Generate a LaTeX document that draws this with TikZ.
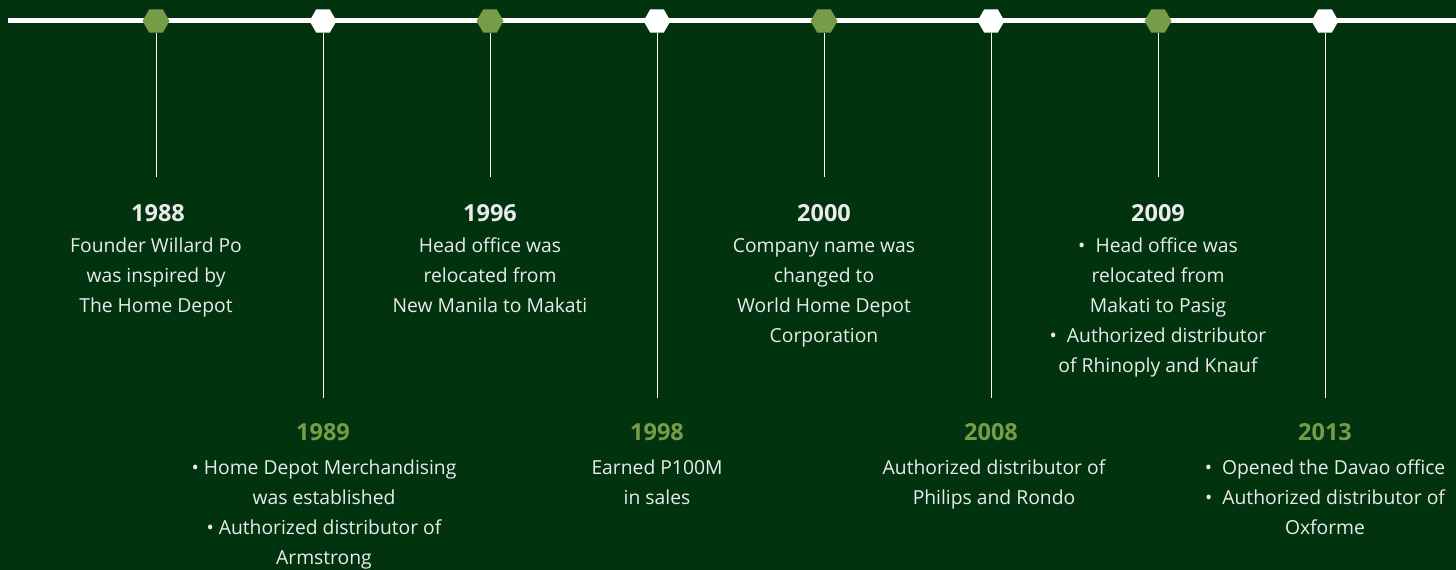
\documentclass[tikz,border=0pt]{standalone}
\usepackage{fontspec}
\setmainfont{Open Sans}
\usetikzlibrary{shapes.geometric}
\definecolor{bg}{HTML}{02330F}
\definecolor{lg}{HTML}{769C48}
\definecolor{tx}{HTML}{EBEBEB}
\tikzset{
  hexg/.style={regular polygon, regular polygon sides=6, minimum size=27pt, inner sep=0pt, fill=lg, draw=none},
  hexw/.style={hexg, fill=white},
  stem/.style={draw=white, line width=1pt},
  axis/.style={draw=white, line width=5pt},
  yeartop/.style={font=\fontsize{23.5}{23.5}\selectfont\bfseries, text=tx, anchor=base, inner sep=0pt},
  yearbot/.style={yeartop, text=lg},
  body/.style={font=\fontsize{19.3}{19.3}\selectfont, text=tx, anchor=base, inner sep=0pt},
}
\newcommand\mybody[4]{%
  \foreach \l [count=\i] in {#4} {\node[body] (#1-\i) at (#2, #3+30*\i-30) {\l};}%
}
\begin{document}
\begin{tikzpicture}[x=1pt,y=-1pt]
\useasboundingbox (0,0) rectangle (1456,570);
\fill[bg] (0,0) rectangle (1456,570);
\coordinate (ls) at (8,20.5);
\coordinate (le) at (1456,20.5);
\draw[axis] (ls) -- (le);
% hexagons
\node[hexg] (h1) at (156,21) {};
\node[hexw] (h2) at (323,21) {};
\node[hexg] (h3) at (490,21) {};
\node[hexw] (h4) at (657,21) {};
\node[hexg] (h5) at (824,21) {};
\node[hexw] (h6) at (991,21) {};
\node[hexg] (h7) at (1158,21) {};
\node[hexw] (h8) at (1325,21) {};
% stem ends
\coordinate (e1) at (156,177);
\coordinate (e2) at (323,398);
\coordinate (e3) at (490,177);
\coordinate (e4) at (657,398);
\coordinate (e5) at (824,177);
\coordinate (e6) at (991,398);
\coordinate (e7) at (1158,177);
\coordinate (e8) at (1325,398);
\foreach \k in {1,...,8} {\draw[stem] (h\k.south) -- (e\k);}
% years
\node[yeartop] (y1) at (158,221) {1988};
\node[yearbot] (y2) at (323,440) {1989};
\node[yeartop] (y3) at (490,221) {1996};
\node[yearbot] (y4) at (657,440) {1998};
\node[yeartop] (y5) at (824,221) {2000};
\node[yearbot] (y6) at (991,440) {2008};
\node[yeartop] (y7) at (1158,221) {2009};
\node[yearbot] (y8) at (1325,440) {2013};
% bodies
\mybody{b1}{156}{252}{{Founder Willard Po},{was inspired by},{The Home Depot}}
\mybody{b2}{324}{474}{{• Home Depot Merchandising},{was established},{• Authorized distributor of},{Armstrong}}
\mybody{b3}{490}{252}{{Head office was},{relocated from},{New Manila to Makati}}
\mybody{b4}{657}{474}{{Earned P100M},{in sales}}
\mybody{b5}{824}{252}{{Company name was},{changed to},{World Home Depot},{Corporation}}
\mybody{b6}{994}{474}{{Authorized distributor of},{Philips and Rondo}}
\mybody{b7}{1158}{252}{{•\ \ Head office was},{relocated from},{Makati to Pasig},{•\ \ Authorized distributor},{of Rhinoply and Knauf}}
\mybody{b8}{1325}{474}{{•\ \ Opened the Davao office},{•\ \ Authorized distributor of},{Oxforme}}
\end{tikzpicture}
\end{document}
